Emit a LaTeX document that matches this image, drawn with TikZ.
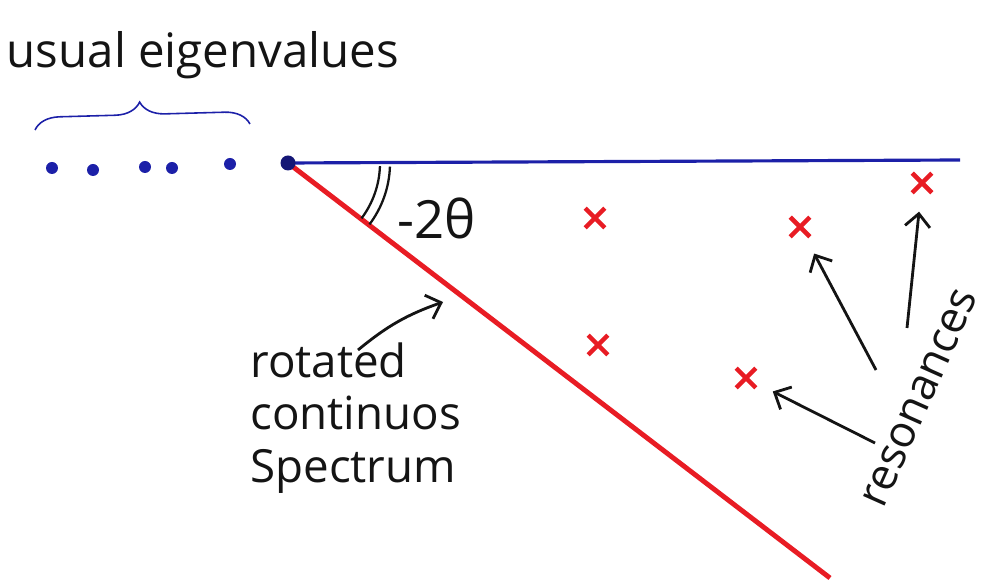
\documentclass[tikz,border=0pt]{standalone}
\usepackage{fontspec}
\setmainfont{Open Sans}
\usetikzlibrary{arrows.meta,decorations.pathreplacing,shapes.misc}
\definecolor{penblue}{RGB}{28,32,168}
\definecolor{penred}{RGB}{232,28,36}
\definecolor{penblack}{RGB}{20,20,20}
\tikzset{
    realaxis/.style={penblue, line width=1.8pt},
    rotatedline/.style={penred, line width=2.8pt},
    eigendot/.style={circle, fill=penblue, inner sep=0pt, minimum size=0.24cm},
    originmark/.style={circle, fill=penblue!70!black, inner sep=0pt, minimum size=0.3cm},
    resmark/.style={cross out, draw=penred, line width=2.6pt, inner sep=0pt, minimum size=0.3cm},
    handarrow/.style={-{Straight Barb[length=2.6mm,width=5mm]}, penblack, line width=1.6pt},
    handtext/.style={penblack, font=\fontsize{26}{30}\selectfont, inner sep=0pt},
    anglearc/.style={penblack, line width=1.3pt},
    eigenbrace/.style={penblue, line width=0.9pt, decorate, decoration={brace, amplitude=0.5cm, aspect=0.49}}
}

\begin{document}
\begin{tikzpicture}[x=0.02cm, y=0.02cm]
        \useasboundingbox (0,0) rectangle (986,584);
        \coordinate (origin) at (288,421);
        \coordinate (axisend) at (960,424);
        \coordinate (rotend) at (830,6);

        \draw[realaxis] (origin) -- (axisend);
        \draw[rotatedline] (origin) -- (rotend);
        \node[originmark] (o) at (origin) {};

        \foreach \x/\y [count=\i] in {52/416, 93/414, 145/417, 172/416, 230/420}
            \node[eigendot] (ev\i) at (\x,\y) {};
        \draw[eigenbrace] (35,454) -- (250,460);
        \node[handtext, font=\fontsize{27}{31}\selectfont] (eigenlabel) at (203,529) {usual eigenvalues};

        \draw[anglearc] (origin) ++(-2:92) arc[start angle=-2, end angle=-37, radius=92];
        \draw[anglearc] (origin) ++(-2:102) arc[start angle=-2, end angle=-37, radius=102];
        \node[handtext, font=\fontsize{30}{34}\selectfont] (anglelabel) at (437,366) {-2θ};

        \foreach \x/\y [count=\i] in {595/366, 800/357, 922/401, 598/239, 746/206}
            \node[resmark] (res\i) at (\x,\y) {};

        \node[handtext, align=left, anchor=west] (rotlabel) at (250,166) {rotated\\continuos\\Spectrum};
        \coordinate (rottail) at (358,234);
        \coordinate (rottip) at (443,282);
        \draw[handarrow] (rottail) to[bend left=10] (rottip);

        \node[handtext, font=\fontsize{25}{29}\selectfont, rotate=66] (reslabel) at (920,186) {resonances};
        \coordinate (restail1) at (875,141);
        \coordinate (restail2) at (876,214);
        \coordinate (restail3) at (907,256);
        \draw[handarrow, shorten >=0.38cm] (restail1) -- (res5);
        \draw[handarrow, shorten >=0.38cm] (restail2) -- (res2);
        \draw[handarrow, shorten >=0.38cm] (restail3) -- (res3);
    \end{tikzpicture}
\end{document}
